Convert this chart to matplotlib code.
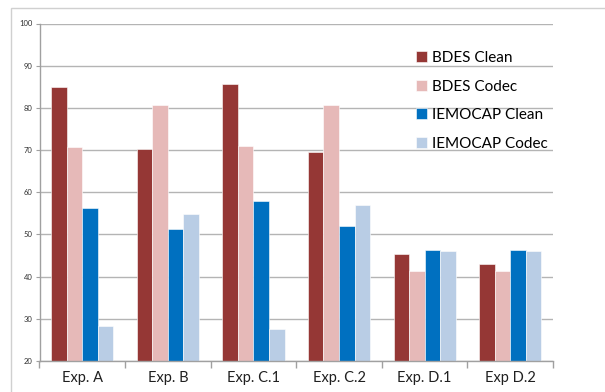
import numpy as np
import matplotlib
matplotlib.use("Agg")
import matplotlib.pyplot as plt
from matplotlib.patches import Rectangle

plt.rcParams["font.family"] = ["Lato", "DejaVu Sans"]

experiments = ["Exp. A", "Exp. B", "Exp. C.1", "Exp. C.2", "Exp. D.1", "Exp D.2"]
series_names = ["BDES Clean", "BDES Codec", "IEMOCAP Clean", "IEMOCAP Codec"]
bdes_clean = [85.0, 70.3, 85.7, 69.5, 45.3, 43.0]
bdes_codec = [70.7, 80.6, 71.0, 80.7, 41.4, 41.4]
iemocap_clean = [56.3, 51.3, 58.0, 52.0, 46.4, 46.4]
iemocap_codec = [28.4, 54.9, 27.6, 56.9, 46.0, 46.0]
y_ticks = [20, 30, 40, 50, 60, 70, 80, 90, 100]

colors = ["#953735", "#E6B9B8", "#0070C0", "#B9CDE5"]
W, H = 605, 392

fig = plt.figure(figsize=(W / 100, H / 100), dpi=100)
# chart frame (cropped on right and bottom)
fig.patches.append(Rectangle((11 / W, -0.1), 1.2, 1 - 8 / H + 0.1, transform=fig.transFigure,
                             fill=False, edgecolor="#D0D0D0", linewidth=1.0))

ax = fig.add_axes([39.5 / W, 31 / H, (553 - 39.5) / W, (361 - 23.5) / H])

x = np.arange(len(experiments))
width = 1 / 5.5
all_series = [bdes_clean, bdes_codec, iemocap_clean, iemocap_codec]
for i, (vals, name, col) in enumerate(zip(all_series, series_names, colors)):
    ax.bar(x + (i - 1.5) * width, np.array(vals) - 20, width, bottom=20, color=col,
           edgecolor="white", linewidth=0.4, label=name, zorder=2)

ax.set_ylim(20, 100)
ax.set_xlim(-0.5, len(experiments) - 0.5)
ax.set_yticks(y_ticks)
ax.set_yticklabels([str(t) for t in y_ticks], fontsize=5.5, color="#303030")
ax.yaxis.grid(True, color="#B4B4B4", linewidth=1.0, zorder=0)
ax.set_axisbelow(True)

ax.set_xticks(np.arange(len(experiments) + 1) - 0.5)
ax.set_xticklabels([])
ax.set_xticks(x, minor=True)
ax.set_xticklabels(experiments, minor=True, fontsize=10.5, color="#202020")
ax.tick_params(axis="x", which="major", length=5, color="#A0A0A0", width=1.0)
ax.tick_params(axis="x", which="minor", length=0, pad=7)
ax.tick_params(axis="y", length=3, color="#A0A0A0", pad=2)

for s in ["top", "right"]:
    ax.spines[s].set_visible(False)
for s in ["left", "bottom"]:
    ax.spines[s].set_color("#A0A0A0")
    ax.spines[s].set_linewidth(1.0)

fig.legend(loc="upper left", bbox_to_anchor=(416 / W, 1 - 51 / H), frameon=False,
           fontsize=11, handlelength=0.75, handleheight=0.75, handletextpad=0.3,
           labelspacing=0.95, borderpad=0, borderaxespad=0)

fig.savefig("out.png", dpi=100, facecolor="white")
